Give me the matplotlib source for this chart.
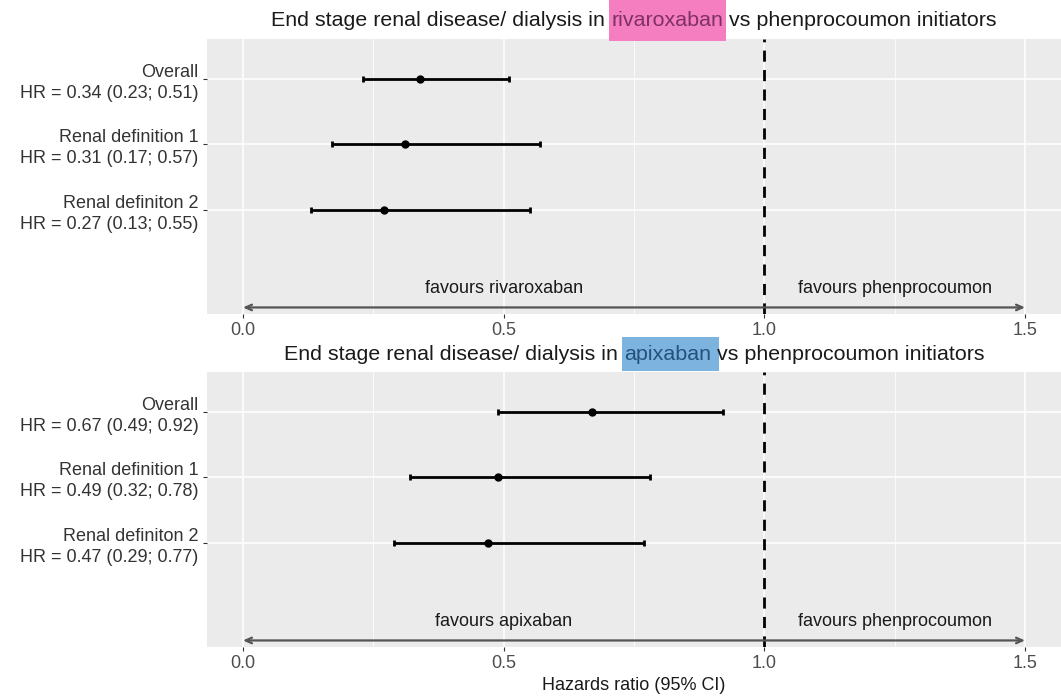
import numpy as np
import matplotlib
matplotlib.use("Agg")
import matplotlib.pyplot as plt
from matplotlib.patches import Rectangle
from matplotlib.ticker import MultipleLocator

plt.rcParams["font.family"] = ["Liberation Sans", "DejaVu Sans"]

# data
outcomes = ["Overall", "Renal definition 1", "Renal definiton 2"]
riva_hr = [0.34, 0.31, 0.27]
riva_lo = [0.23, 0.17, 0.13]
riva_hi = [0.51, 0.57, 0.55]
apix_hr = [0.67, 0.49, 0.47]
apix_lo = [0.49, 0.32, 0.29]
apix_hi = [0.92, 0.78, 0.77]
x_ticks = [0.0, 0.5, 1.0, 1.5]

PANEL_BG = "#EBEBEB"
TEXT = "#333333"
PINK, PINK_TXT = "#F47EC0", "#7F3066"
BLUE, BLUE_TXT = "#7CB3DF", "#24527C"

W, H = 1061, 699
fig = plt.figure(figsize=(W / 100, H / 100), dpi=100)


def px_axes(left, top, right, bottom):
    return fig.add_axes([left / W, 1 - bottom / H, (right - left) / W, (bottom - top) / H])


def forest(ax, hr, lo, hi, drug):
    ypos = np.arange(len(outcomes), 0, -1)
    ax.set_facecolor(PANEL_BG)
    ax.set_xlim(-0.069, 1.569)
    ax.set_ylim(-0.59, 3.61)
    ax.xaxis.set_major_locator(MultipleLocator(0.5))
    ax.xaxis.set_minor_locator(MultipleLocator(0.25))
    ax.grid(which="major", axis="x", color="white", lw=1.1)
    ax.grid(which="minor", axis="x", color="white", lw=0.55)
    ax.set_axisbelow(True)
    for y in ypos:
        ax.axhline(y, color="white", lw=1.1, zorder=0.5)
    for s in ax.spines.values():
        s.set_visible(False)

    ax.errorbar(hr, ypos, xerr=[np.subtract(hr, lo), np.subtract(hi, hr)],
                fmt="o", color="black", ms=5, lw=2, capsize=2.5, capthick=2, zorder=3)
    ax.axvline(1.0, color="black", lw=2, ls=(0, (4, 3)), zorder=2)

    ax.annotate("", xy=(0.0, -0.49), xytext=(1.5, -0.49),
                arrowprops=dict(arrowstyle="<->,head_length=0.45,head_width=0.2",
                                color="#555555", lw=1.6, shrinkA=0, shrinkB=0), zorder=2)
    ax.text(0.5, -0.2, f"favours {drug}", ha="center", va="center", fontsize=13, color="#1a1a1a")
    ax.text(1.25, -0.2, "favours phenprocoumon", ha="center", va="center", fontsize=13, color="#1a1a1a")

    ax.set_yticks(ypos)
    ax.set_yticklabels([f"{o}\nHR = {h:.2f} ({l:.2f}; {u:.2f})"
                        for o, h, l, u in zip(outcomes, hr, lo, hi)],
                       fontsize=13, color=TEXT, linespacing=1.3)
    ax.set_xticks(x_ticks)
    ax.set_xticklabels([f"{t:.1f}" for t in x_ticks], fontsize=13, color="#4D4D4D")
    ax.tick_params(which="major", length=3, width=0.8, color="#333333", pad=3)
    ax.tick_params(which="minor", length=0)


def title(ax, drug, color, txt_color, y_px, box_top, box_bottom, box_extra):
    r = fig.canvas.get_renderer()
    parts = ["End stage renal disease/ dialysis in ", drug, " vs phenprocoumon initiators"]
    texts = []
    for i, p in enumerate(parts):
        texts.append(fig.text(0, 1 - y_px / H, p, fontsize=15.4,
                              color=txt_color if i == 1 else "#1a1a1a",
                              va="center", ha="left", zorder=3))
    widths = [t.get_window_extent(r).width / W for t in texts]
    center = (ax.get_position().x0 + ax.get_position().x1) / 2
    x = center - sum(widths) / 2
    for t, w in zip(texts, widths):
        t.set_x(x)
        x += w
    bb = texts[1].get_window_extent(r)
    x0, x1 = bb.x0 - 2, bb.x1 + box_extra
    fig.patches.append(Rectangle((x0 / W, 1 - box_bottom / H), (x1 - x0) / W,
                                 (box_bottom - box_top) / H, transform=fig.transFigure,
                                 fc=color, ec="none", zorder=2))


ax1 = px_axes(207, 39, 1061, 314)
ax2 = px_axes(207, 372, 1061, 647)
forest(ax1, riva_hr, riva_lo, riva_hi, "rivaroxaban")
forest(ax2, apix_hr, apix_lo, apix_hi, "apixaban")
title(ax1, "rivaroxaban", PINK, PINK_TXT, 20, 0, 41, 3)
title(ax2, "apixaban", BLUE, BLUE_TXT, 354, 337, 371, 8)
fig.text(0.5 * (207 + 1061) / W, 1 - 685 / H, "Hazards ratio (95% CI)",
         ha="center", va="center", fontsize=13, color="#1a1a1a")

fig.savefig("out.png", dpi=100)
